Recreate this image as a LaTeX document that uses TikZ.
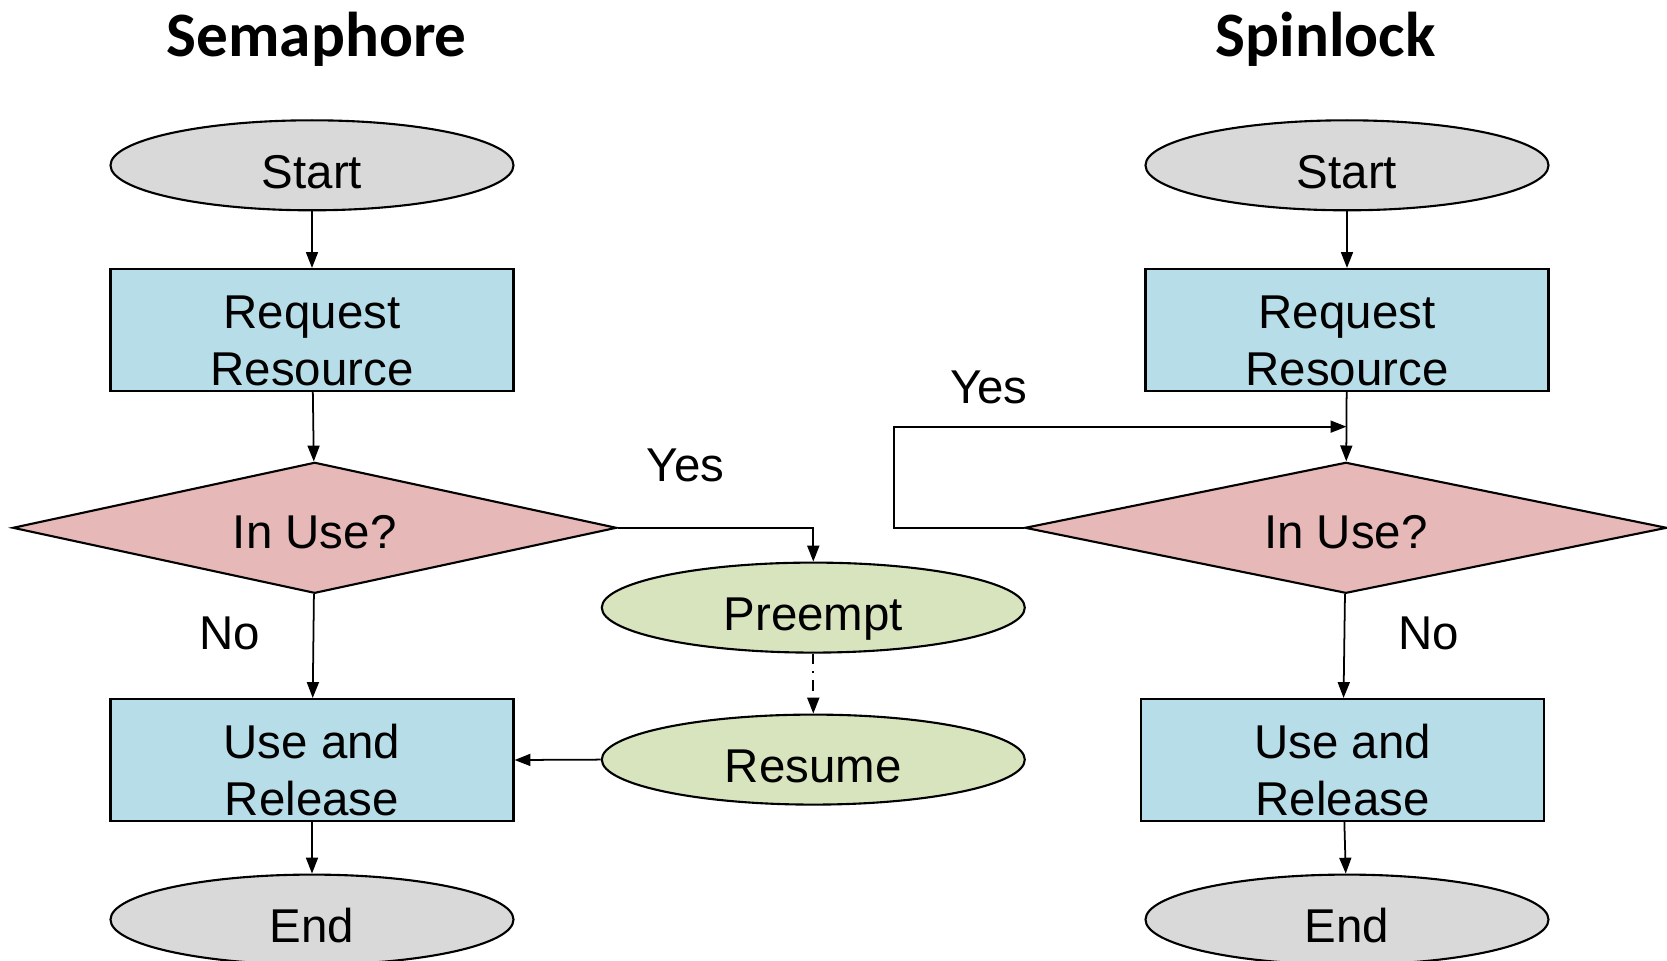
\documentclass[tikz,border=0pt]{standalone}
\usepackage{fontspec}
\setmainfont{Liberation Sans}
\newfontfamily\headfont{Carlito}
\usepackage{tikz}
\usetikzlibrary{arrows.meta,shapes.geometric,positioning,calc}
\usepackage{xcolor}
\definecolor{termgray}{RGB}{217,217,217}
\definecolor{procblue}{RGB}{183,221,232}
\definecolor{decpink}{RGB}{230,184,183}
\definecolor{waitgreen}{RGB}{215,228,189}
\tikzstyle{arrow} = [line width=0.5pt,-{Triangle[length=4.5pt,width=3.4pt]}]
\tikzstyle{terminal} = [ellipse, draw, line width=0.6pt, fill=termgray, minimum width=4.03cm, minimum height=0.9cm, inner sep=0pt, text height=13.3pt, text depth=0pt]
\tikzstyle{pausebox} = [terminal, fill=waitgreen, minimum width=4.23cm]
\tikzstyle{proc} = [rectangle, draw, line width=0.6pt, fill=procblue, minimum width=4.03cm, minimum height=1.22cm, inner sep=0pt, align=center, text height=31.9pt]
\tikzstyle{decide} = [diamond, aspect=4.6, draw, line width=0.6pt, fill=decpink, minimum width=6.04cm, minimum height=1.31cm, inner sep=0pt, text height=12pt, text depth=0pt]
\tikzstyle{heading} = [font=\headfont\bfseries\fontsize{18}{22}\selectfont]

\begin{document}
\begin{tikzpicture}[font=\fontsize{13.5}{16.2}\selectfont]
\useasboundingbox (0,0) rectangle (16.67,-9.61);

% Semaphore
\node[heading] (semtitle) at (3.168,-0.39) {Semaphore};
\node[terminal] (sstart) at (3.12,-1.653) {Start};
\node[proc] (sreq) at (3.12,-3.30) {Request\\Resource};
\node[decide] (sinuse) at (3.147,-5.278) {In Use?};
\node[proc] (suserel) at (3.12,-7.60) {Use and\\Release};
\node[terminal] (send) at (3.12,-9.196) {End};
\node[pausebox] (preempt) at (8.133,-6.076) {Preempt};
\node[pausebox] (resume) at (8.133,-7.596) {Resume};
\node (syes) at (6.857,-4.656) {Yes};
\node (sno) at (2.296,-6.336) {No};

\draw[arrow] (sstart) -- (sreq);
\draw[arrow] (sreq) -- (sinuse);
\draw[arrow] (sinuse) -- (suserel);
\draw[arrow] (suserel) -- (send);
\draw[arrow] (sinuse.east) -| (preempt.north);
\draw[arrow, dashdotted] (preempt) -- (resume);
\draw[arrow] (resume.west) -- (suserel.east);

% Spinlock
\node[heading] (spintitle) at (13.257,-0.39) {Spinlock};
\node[terminal] (pstart) at (13.47,-1.653) {Start};
\node[proc] (preq) at (13.47,-3.30) {Request\\Resource};
\node[decide, aspect=4.9, minimum width=6.42cm] (pinuse) at (13.459,-5.278) {In Use?};
\node[proc] (puserel) at (13.427,-7.60) {Use and\\Release};
\node[terminal] (pend) at (13.47,-9.196) {End};
\node (pyes) at (9.887,-3.87) {Yes};
\node (pno) at (14.288,-6.336) {No};

\coordinate (pjoin) at ($(preq.south)!0.5!(pinuse.north)$);
\draw[arrow] (pstart) -- (preq);
\draw[arrow] (preq) -- (pinuse);
\draw[arrow] (pinuse.west) -- ++(-1.297,0) |- (pjoin);
\draw[arrow] (pinuse) -- (puserel);
\draw[arrow] (puserel) -- (pend);
\end{tikzpicture}
\end{document}
